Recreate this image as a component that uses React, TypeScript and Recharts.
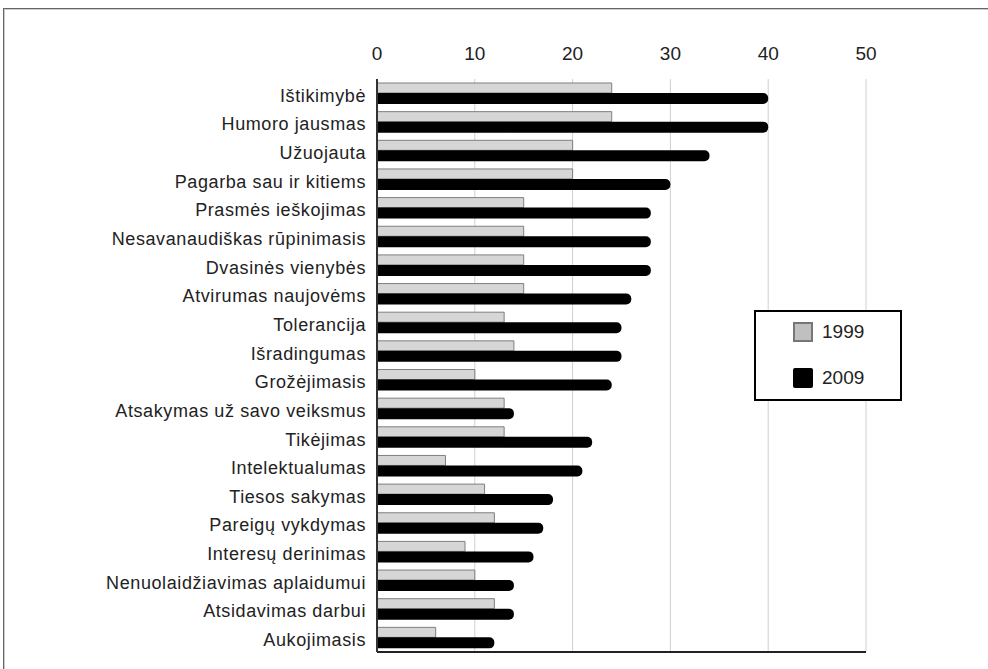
import {
    Bar,
    BarChart,
    CartesianGrid,
    Legend,
    XAxis,
    YAxis,
} from "recharts";

const categories = [
    "Ištikimybė",
    "Humoro jausmas",
    "Užuojauta",
    "Pagarba sau ir kitiems",
    "Prasmės ieškojimas",
    "Nesavanaudiškas rūpinimasis",
    "Dvasinės vienybės",
    "Atvirumas naujovėms",
    "Tolerancija",
    "Išradingumas",
    "Grožėjimasis",
    "Atsakymas už savo veiksmus",
    "Tikėjimas",
    "Intelektualumas",
    "Tiesos sakymas",
    "Pareigų vykdymas",
    "Interesų derinimas",
    "Nenuolaidžiavimas aplaidumui",
    "Atsidavimas darbui",
    "Aukojimasis",
];
const values1999 = [24, 24, 20, 20, 15, 15, 15, 15, 13, 14, 10, 13, 13, 7, 11, 12, 9, 10, 12, 6];
const values2009 = [40, 40, 34, 30, 28, 28, 28, 26, 25, 25, 24, 14, 22, 21, 18, 17, 16, 14, 14, 12];
const ticks = [0, 10, 20, 30, 40, 50];

const data = categories.map((name, i) => ({
    name,
    y1999: values1999[i],
    y2009: values2009[i],
}));

const font = "'Liberation Sans', Arial, sans-serif";

const LegendBox = () => (
    <div
        style={{
            border: "2px solid #000",
            background: "#fff",
            width: 148,
            height: 91,
            boxSizing: "border-box",
            fontFamily: font,
            fontSize: 19,
            color: "#222",
            paddingLeft: 37,
            paddingTop: 9,
        }}
    >
        <div style={{ display: "flex", alignItems: "center", height: 22 }}>
            <span style={{ width: 16, height: 16, background: "#c0c0c0", border: "2px solid #777", marginRight: 9 }} />
            1999
        </div>
        <div style={{ display: "flex", alignItems: "center", height: 22, marginTop: 24 }}>
            <span style={{ width: 20, height: 20, background: "#000", borderRadius: 2, marginRight: 9 }} />
            2009
        </div>
    </div>
);

const App = () => {
    return (
        <div style={{ position: "absolute", left: 0, top: 0, width: 988, height: 669, background: "#fff", overflow: "hidden" }}>
            <div
                style={{
                    position: "absolute",
                    left: 3,
                    top: 8,
                    width: 990,
                    height: 700,
                    border: "1px solid #666",
                    boxShadow: "inset 1px 1px 0 #ccc",
                }}
            />
            <BarChart
                width={988}
                height={669}
                layout="vertical"
                data={data}
                margin={{ top: 0, right: 122, bottom: 0, left: 0 }}
                barGap={0}
                style={{ fontFamily: font }}
            >
                <CartesianGrid xAxisId="top" horizontal={false} stroke="#cfcfcf" />
                <XAxis
                    xAxisId="top"
                    orientation="top"
                    type="number"
                    domain={[0, 50]}
                    ticks={ticks}
                    axisLine={false}
                    tickLine={false}
                    tickSize={8}
                    tickMargin={11}
                    height={79}
                    tick={{ fill: "#222", fontSize: 19 }}
                />
                <XAxis
                    xAxisId="bottom"
                    orientation="bottom"
                    type="number"
                    domain={[0, 50]}
                    ticks={ticks}
                    axisLine={{ stroke: "#222", strokeWidth: 2 }}
                    tickLine={{ stroke: "#222", strokeWidth: 2 }}
                    tickSize={9}
                    height={17}
                    tick={() => <g />}
                />
                <YAxis
                    type="category"
                    dataKey="name"
                    width={377}
                    interval={0}
                    axisLine={{ stroke: "#333", strokeWidth: 2 }}
                    tickLine={false}
                    tickMargin={5}
                    tick={{ fill: "#222", fontSize: 18, letterSpacing: 0.6, dy: 2 }}
                />
                <Legend
                    layout="vertical"
                    align="center"
                    verticalAlign="middle"
                    content={() => <LegendBox />}
                    wrapperStyle={{ left: 754, top: 310, width: 150, height: 92 }}
                />
                <Bar
                    xAxisId="top"
                    dataKey="y1999"
                    name="1999"
                    barSize={10}
                    fill="#d6d6d6"
                    stroke="#7f7f7f"
                    strokeWidth={1}
                    isAnimationActive={false}
                />
                <Bar
                    xAxisId="top"
                    dataKey="y2009"
                    name="2009"
                    barSize={11}
                    fill="#000"
                    radius={[0, 5, 5, 0]}
                    isAnimationActive={false}
                />
            </BarChart>
        </div>
    );
};

export default App;
